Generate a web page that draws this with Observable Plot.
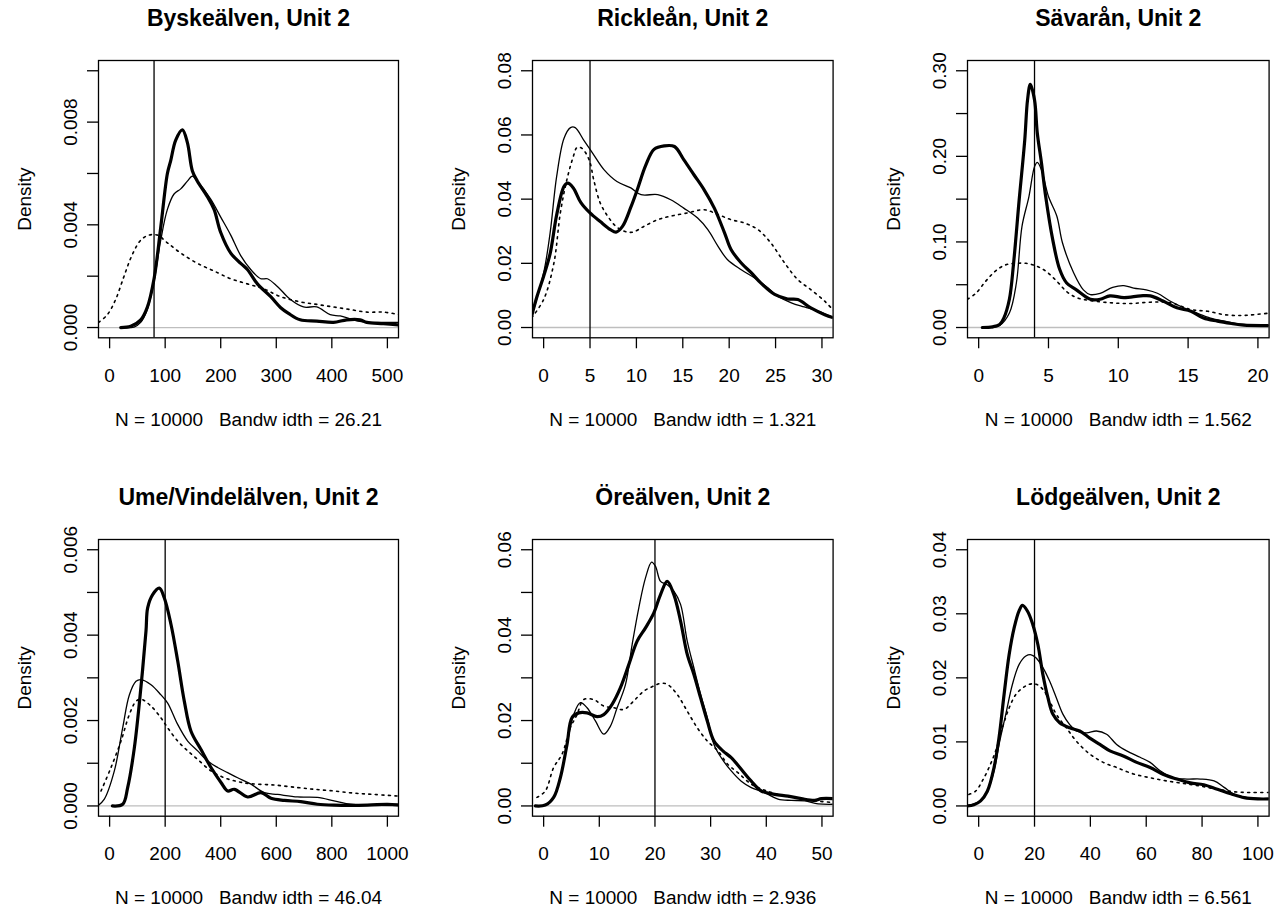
<!DOCTYPE html>
<html><head><meta charset="utf-8">
<script src="https://cdn.jsdelivr.net/npm/d3@7"></script>
<script src="https://cdn.jsdelivr.net/npm/@observablehq/plot@0.6"></script>
<style>
html,body{margin:0;padding:0;background:#fff;overflow:hidden;}
#root{position:relative;width:1285px;height:907px;background:#fff;}
.panel{position:absolute;}
</style></head><body><div id="root"></div>
<script>
// ---------- data ----------
const titles = ["Byskeälven, Unit 2","Rickleån, Unit 2","Sävarån, Unit 2","Ume/Vindelälven, Unit 2","Öreälven, Unit 2","Lödgeälven, Unit 2"];
const sampleSize = 10000;
const bandwidths = ["26.21","1.321","1.562","46.04","2.936","6.561"];
const xLims = [[0,500],[0,30],[0,20],[0,1000],[0,50],[0,100]];
const yLims = [[0,0.010],[0,0.08],[0,0.30],[0,0.006],[0,0.06],[0,0.04]];
const xTicks = [[0,100,200,300,400,500],[0,5,10,15,20,25,30],[0,5,10,15,20],[0,200,400,600,800,1000],[0,10,20,30,40,50],[0,20,40,60,80,100]];
const yTicks = [[0,0.002,0.004,0.006,0.008,0.010],[0,0.02,0.04,0.06,0.08],[0,0.05,0.10,0.15,0.20,0.25,0.30],[0,0.001,0.002,0.003,0.004,0.005,0.006],[0,0.01,0.02,0.03,0.04,0.05,0.06],[0,0.01,0.02,0.03,0.04]];
const yTickLabels = [["0.000","0.004","0.008"],["0.00","0.02","0.04","0.06","0.08"],["0.00","0.10","0.20","0.30"],["0.000","0.002","0.004","0.006"],["0.00","0.02","0.04","0.06"],["0.00","0.01","0.02","0.03","0.04"]];
const refValues = [80,5,4,200,20,20];

// Byskeälven
const bysThick = [[20,0],[38,0.00005],[56,0.0003],[68,0.0008],[80,0.0019],[92,0.0039],[104,0.0060],[110,0.0065],[119,0.0073],[131,0.0077],[140,0.0072],[149,0.0061],[158,0.0057],[176,0.0051],[188,0.0046],[200,0.0037],[218,0.0029],[236,0.0025],[248,0.00226],[266,0.0017],[290,0.0012],[308,0.00077],[322,0.00055],[343,0.0003],[373,0.00025],[403,0.0002],[427,0.0003],[451,0.0003],[463,0.0002],[493,0.00015],[522,0.0001]];
const bysThin = [[20,0],[44,0.00002],[56,0.0002],[68,0.0007],[80,0.0018],[92,0.0034],[104,0.0046],[116,0.0052],[128,0.0054],[140,0.0057],[149,0.0059],[158,0.0057],[182,0.0050],[200,0.0043],[218,0.0036],[236,0.0028],[254,0.00226],[272,0.0019],[284,0.0019],[302,0.0016],[325,0.0011],[349,0.0008],[373,0.0008],[397,0.0005],[415,0.00045],[439,0.0003],[463,0.0002],[493,0.0002],[522,0.0002]];
const bysDotted = [[-20,0.0002],[-4,0.0005],[11,0.0011],[26,0.0020],[40,0.0028],[56,0.0034],[71,0.0036],[86,0.0036],[104,0.0033],[128,0.0029],[158,0.0025],[188,0.0022],[218,0.0019],[248,0.0017],[278,0.0015],[308,0.0012],[343,0.0010],[373,0.0009],[403,0.0008],[433,0.0007],[463,0.0006],[493,0.0006],[522,0.0005]];

// Rickleån
const ricThick = [[-1.3,0.0035],[-0.7,0.0098],[0,0.016],[0.7,0.023],[1.4,0.035],[2.2,0.044],[2.6,0.045],[3.2,0.0435],[4.0,0.039],[5.0,0.0357],[6.1,0.033],[7.2,0.0305],[7.8,0.0297],[8.5,0.0315],[9.4,0.0375],[10.1,0.043],[11.0,0.0505],[11.9,0.0555],[13.0,0.0566],[14.1,0.0564],[15.1,0.0523],[16.2,0.0476],[17.3,0.0429],[18.4,0.0372],[19.5,0.0295],[20.2,0.0243],[21.3,0.0201],[22.4,0.017],[23.4,0.0139],[24.9,0.0103],[26.3,0.0089],[27.4,0.0087],[28.8,0.0061],[30.3,0.004],[31.3,0.003]];
const ricThin = [[-1.3,0.0035],[0,0.017],[0.7,0.0295],[1.4,0.047],[2.2,0.059],[2.9,0.0623],[3.4,0.0623],[4.3,0.0585],[5.4,0.0538],[6.5,0.0492],[7.9,0.0455],[9.4,0.0435],[10.5,0.0414],[12.3,0.0414],[13.7,0.0398],[15.1,0.0372],[16.6,0.0341],[17.7,0.0305],[18.8,0.0253],[19.8,0.0212],[21.3,0.018],[22.7,0.0155],[24.2,0.0123],[25.2,0.0098],[26.7,0.0077],[28.1,0.0064],[29.6,0.0051],[31.3,0.003]];
const ricDotted = [[-1.3,0.003],[0,0.0087],[1.1,0.020],[1.8,0.0357],[2.5,0.046],[3.2,0.0533],[3.6,0.0561],[4.1,0.0559],[4.9,0.0523],[5.4,0.046],[6.1,0.0388],[6.9,0.0347],[7.8,0.0315],[8.7,0.030],[9.6,0.0297],[10.8,0.0315],[12.3,0.0336],[13.7,0.0347],[15.5,0.0357],[17.3,0.0367],[18.8,0.0352],[20.2,0.0336],[21.6,0.0326],[23.1,0.0305],[24.5,0.0263],[26.0,0.020],[27.4,0.0149],[28.8,0.0118],[30.3,0.0082],[31.3,0.0051]];

// Sävarån
const savThick = [[0.26,0],[1.0,0.0008],[1.5,0.0035],[1.8,0.011],[2.2,0.033],[2.5,0.075],[2.9,0.149],[3.3,0.219],[3.5,0.266],[3.7,0.284],[4.0,0.266],[4.2,0.227],[4.5,0.192],[4.8,0.153],[5.3,0.103],[5.8,0.068],[6.3,0.052],[7.0,0.044],[8.0,0.033],[8.7,0.033],[9.4,0.037],[10.4,0.035],[11.6,0.037],[12.3,0.037],[13.2,0.031],[14.2,0.023],[15.2,0.019],[16.1,0.011],[17.1,0.0074],[18.1,0.0047],[19.0,0.0027],[20.9,0.0023]];
const savThin = [[1.0,0],[1.5,0.0023],[2.2,0.017],[2.7,0.052],[3.1,0.118],[3.6,0.153],[4.0,0.188],[4.2,0.193],[4.5,0.184],[5.0,0.153],[5.6,0.130],[6.0,0.099],[6.8,0.064],[7.5,0.044],[8.0,0.0385],[8.7,0.040],[9.6,0.047],[10.4,0.049],[11.1,0.046],[12.0,0.044],[12.8,0.040],[13.7,0.031],[14.7,0.023],[15.6,0.017],[16.6,0.011],[17.6,0.0074],[18.8,0.0039],[20.9,0.0023]];
const savDotted = [[-0.8,0.033],[-0.2,0.040],[0.5,0.054],[1.2,0.066],[1.9,0.073],[2.7,0.075],[3.4,0.075],[4.1,0.072],[4.8,0.066],[5.6,0.054],[6.3,0.042],[7.0,0.035],[8.0,0.0315],[9.4,0.029],[10.8,0.028],[12.3,0.0296],[13.7,0.029],[15.2,0.021],[16.4,0.019],[17.6,0.015],[18.8,0.014],[19.7,0.015],[20.9,0.017]];

// Ume/Vindelälven
const umeThick = [[10,0],[47,0.00004],[65,0.00043],[89,0.00136],[113,0.0028],[131,0.0041],[137,0.00464],[155,0.00495],[179,0.0051],[197,0.00487],[221,0.00425],[245,0.0034],[269,0.00245],[293,0.00175],[329,0.00132],[365,0.0009],[401,0.00055],[425,0.00035],[449,0.00039],[497,0.00021],[545,0.00031],[581,0.00018],[629,0.00013],[688,0.0001],[748,0.00004],[808,0.00002],[928,0.00002],[1000,0.00004],[1042,0.00002]];
const umeThin = [[-43,0],[-19,0.00016],[17,0.00082],[47,0.00183],[71,0.0026],[95,0.00292],[113,0.00296],[149,0.00284],[185,0.0026],[209,0.00241],[245,0.00191],[281,0.00152],[317,0.00129],[353,0.00105],[389,0.0009],[425,0.00078],[461,0.00066],[509,0.00051],[557,0.00031],[605,0.00027],[677,0.00021],[748,0.0002],[808,0.00012],[868,0.00004],[928,0.00002],[1042,0.00001]];
const umeDotted = [[-31,0.00035],[5,0.0009],[41,0.00152],[71,0.00214],[95,0.00245],[113,0.0025],[149,0.00234],[185,0.00206],[209,0.00183],[245,0.00152],[281,0.00129],[317,0.00109],[365,0.00082],[413,0.00066],[461,0.00057],[509,0.00052],[592,0.00049],[677,0.00043],[736,0.00039],[808,0.00035],[880,0.0003],[952,0.00027],[1042,0.00023]];

// Öreälven
const oreThick = [[-1.5,0],[0.3,0.0002],[1.8,0.002],[3.0,0.0066],[4.2,0.0144],[5.1,0.0207],[6.3,0.0218],[7.8,0.0218],[9.6,0.0209],[10.8,0.0214],[12.3,0.0238],[13.8,0.0277],[15.3,0.0331],[16.8,0.0386],[18.3,0.0417],[19.8,0.0452],[21.0,0.0495],[22.2,0.0526],[23.4,0.0495],[24.6,0.0433],[25.8,0.0355],[27.0,0.0308],[28.2,0.0253],[29.4,0.0199],[30.6,0.0152],[32.2,0.0129],[33.7,0.0113],[35.5,0.0086],[37.3,0.0058],[39.1,0.0035],[41.5,0.0027],[43.9,0.0023],[46.3,0.0017],[48.7,0.0013],[49.9,0.0017],[52.1,0.0017]];
const oreThin = [[-1.5,0],[0.6,0.0004],[1.8,0.002],[3.0,0.0066],[4.2,0.0144],[5.4,0.0214],[6.6,0.0242],[7.8,0.023],[9.3,0.0199],[10.8,0.0168],[12.0,0.0187],[13.2,0.023],[14.7,0.0284],[15.9,0.0378],[17.1,0.0464],[18.3,0.0534],[19.4,0.0571],[20.1,0.0561],[21.0,0.0526],[22.2,0.0518],[23.4,0.0503],[24.6,0.0472],[25.8,0.0386],[27.0,0.0323],[28.2,0.0261],[29.4,0.0207],[30.6,0.0144],[31.9,0.0113],[33.7,0.0082],[35.5,0.0058],[37.3,0.0043],[39.7,0.0031],[42.1,0.0016],[44.5,0.0013],[46.9,0.0012],[49.3,0.0005],[52.1,0.0004]];
const oreDotted = [[-1.2,0.002],[0.3,0.0035],[1.8,0.009],[3.3,0.0121],[4.8,0.0183],[6.0,0.0214],[7.2,0.0249],[9.0,0.0249],[10.8,0.0234],[12.6,0.023],[14.4,0.0226],[16.2,0.0246],[18.0,0.0269],[19.8,0.0281],[21.0,0.0287],[22.2,0.0285],[24.0,0.0261],[25.8,0.0222],[27.6,0.0183],[29.4,0.0152],[31.3,0.0129],[33.1,0.0097],[34.9,0.0078],[37.3,0.0051],[39.7,0.0037],[42.7,0.0025],[45.7,0.0018],[48.7,0.0012],[52.1,0.0008]];

// Lödgeälven
const lodThick = [[-4.1,0],[-1.7,0.0002],[0.7,0.0008],[3.1,0.0023],[5.5,0.006],[7.3,0.0107],[9.1,0.0174],[10.9,0.0236],[12.7,0.0278],[14.5,0.0305],[15.7,0.0313],[17.5,0.0304],[19.4,0.0283],[21.2,0.0252],[23.0,0.0205],[24.8,0.0169],[26.6,0.0143],[29.0,0.013],[32.6,0.0122],[36.2,0.0117],[39.8,0.0106],[43.4,0.0096],[47.0,0.0086],[51.8,0.0078],[56.6,0.0068],[61.4,0.006],[66.2,0.0049],[71.0,0.0042],[75.8,0.0036],[80.6,0.0033],[85.5,0.0026],[90.3,0.0019],[95.1,0.0013],[99.9,0.0011],[104.7,0.0011]];
const lodThin = [[-4.1,0],[0.7,0.0008],[3.1,0.0023],[5.5,0.0055],[7.3,0.0096],[9.7,0.0143],[12.1,0.019],[14.5,0.0221],[16.9,0.0234],[18.8,0.0236],[20.6,0.0231],[23.0,0.0216],[25.4,0.0195],[27.8,0.0169],[30.2,0.0143],[32.6,0.0127],[35.0,0.0117],[38.6,0.0114],[42.2,0.0117],[45.8,0.0112],[49.4,0.0096],[53.0,0.0086],[57.8,0.0076],[61.4,0.0068],[65.0,0.0055],[69.8,0.0044],[74.6,0.0042],[79.4,0.0042],[84.3,0.0039],[87.9,0.0029],[91.5,0.0018],[96.3,0.0013],[104.7,0.0011]];
const lodDotted = [[-3.5,0.0018],[-1.1,0.0023],[1.3,0.0039],[3.7,0.006],[6.1,0.0086],[8.5,0.0122],[10.9,0.0153],[13.3,0.0174],[15.7,0.0184],[18.1,0.019],[20.6,0.019],[23.0,0.0182],[25.4,0.0164],[27.8,0.0143],[31.4,0.0122],[35.0,0.0101],[39.8,0.0081],[44.6,0.0068],[49.4,0.006],[55.4,0.005],[61.4,0.0044],[67.4,0.0039],[73.4,0.0035],[79.4,0.0031],[85.5,0.0026],[91.5,0.0022],[97.5,0.0021],[104.7,0.0021]];

const thickSeries = [bysThick, ricThick, savThick, umeThick, oreThick, lodThick];
const thinSeries = [bysThin, ricThin, savThin, umeThin, oreThin, lodThin];
const dottedSeries = [bysDotted, ricDotted, savDotted, umeDotted, oreDotted, lodDotted];

// ---------- layout ----------
const FONT = '"Liberation Sans", Arial, Helvetica, sans-serif';
const boxLefts = [97.7, 531.7, 966.7];
const boxWidths = [300, 300.6, 301.6];
const boxTops = [60, 539.3];
const boxHeights = [277.3, 276.7];
const ML = 98, MT = 60, MR = 14, MB = 91;
const LW = 1.3;
const CURVE = "catmull-rom";

const root = document.getElementById("root");
const px = d => d[0], py = d => d[1];

for (let i = 0; i < 6; i++) {
  const col = i % 3, row = Math.floor(i / 3);
  const [x0, x1] = xLims[i], [y0, y1] = yLims[i];
  const ex = (x1 - x0) * 0.04, ey = (y1 - y0) * 0.04;
  const labelVals = yTickLabels[i].map(Number);
  const subtitle = `N = ${sampleSize}\u00a0\u00a0\u00a0Bandw idth = ${bandwidths[i]}`;
  const svg = Plot.plot({
    width: ML + boxWidths[col] + MR,
    height: MT + boxHeights[row] + MB,
    marginLeft: ML, marginRight: MR, marginTop: MT, marginBottom: MB,
    x: {domain: [x0 - ex, x1 + ex], label: null},
    y: {domain: [y0 - ey, y1 + ey], label: null},
    style: {fontFamily: FONT, fontSize: "19px", background: "white", color: "black", overflow: "visible"},
    marks: [
      Plot.ruleY([0], {stroke: "#bebebe", strokeWidth: LW}),
      Plot.line(dottedSeries[i], {x: px, y: py, stroke: "black", strokeWidth: 1.6, strokeDasharray: "2,4.5", curve: CURVE, clip: true}),
      Plot.line(thinSeries[i], {x: px, y: py, stroke: "black", strokeWidth: 1.3, curve: CURVE, clip: true}),
      Plot.line(thickSeries[i], {x: px, y: py, stroke: "black", strokeWidth: 3.2, curve: CURVE, clip: true}),
      Plot.ruleX([refValues[i]], {stroke: "black", strokeWidth: LW}),
      Plot.frame({stroke: "black", strokeWidth: LW}),
      Plot.axisX({ticks: xTicks[i], tickSize: 11, tickFormat: () => "", strokeWidth: LW, label: null}),
      Plot.axisY({ticks: yTicks[i], tickSize: 11, tickFormat: () => "", strokeWidth: LW, label: null}),
      Plot.text(xTicks[i], {x: d => d, text: d => String(d), frameAnchor: "bottom", dy: 44, lineAnchor: "bottom", fontSize: 19, fill: "black"}),
      Plot.text(labelVals, {y: d => d, text: (d, j) => yTickLabels[i][j], frameAnchor: "left", dx: -21.7, rotate: -90, lineAnchor: "bottom", textAnchor: "middle", fontSize: 19, fill: "black"}),
      Plot.text(["Density"], {text: d => d, frameAnchor: "left", dx: -68, rotate: -90, lineAnchor: "bottom", textAnchor: "middle", fontSize: 19, fill: "black"}),
      Plot.text([subtitle], {text: d => d, frameAnchor: "bottom", dy: 88, lineAnchor: "bottom", fontSize: 19, fill: "black"}),
      Plot.text([titles[i]], {text: d => d, frameAnchor: "top", dy: -34, lineAnchor: "bottom", fontSize: 23, fontWeight: "bold", fill: "black"})
    ]
  });
  const wrap = document.createElement("div");
  wrap.className = "panel";
  wrap.style.left = (boxLefts[col] - ML) + "px";
  wrap.style.top = (boxTops[row] - MT) + "px";
  wrap.appendChild(svg);
  root.appendChild(wrap);
}
</script></body></html>
